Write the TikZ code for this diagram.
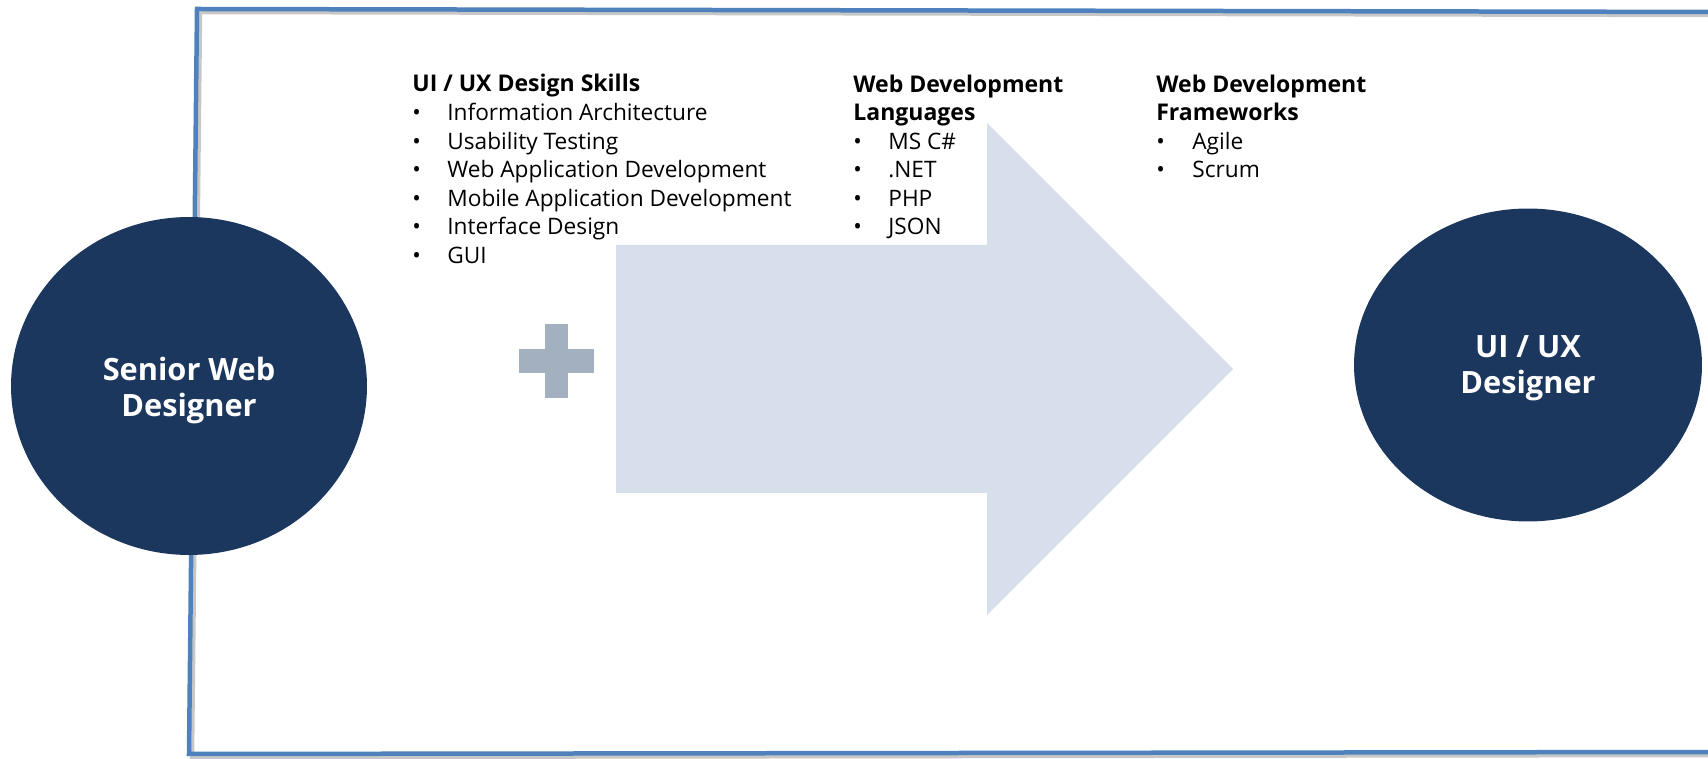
\documentclass[tikz,border=0pt]{standalone}
\usepackage{fontspec}
\setmainfont{Open Sans}
\usepackage{tikz}
\usepackage{xcolor}
\usetikzlibrary{calc, shapes, positioning}

\definecolor{navy}{RGB}{27,55,94}
\definecolor{frameblue}{RGB}{79,129,189}
\definecolor{arrowfill}{RGB}{214,223,235}
\definecolor{plusgrey}{RGB}{163,176,192}

\begin{document}
\begin{tikzpicture}[x=0.02cm, y=-0.02cm,
		role/.style={ellipse, fill=navy, inner sep=0pt},
		roletext/.style={anchor=base, inner sep=0pt, text=white, align=center, font=\fontsize{17.5}{21}\selectfont\bfseries},
		head/.style={anchor=base west, inner sep=0pt, align=left, font=\fontsize{13.1}{16.2}\selectfont\bfseries},
		item/.style={anchor=base west, inner sep=0pt, font=\fontsize{12.9}{16}\selectfont}]
			\useasboundingbox (0,0) rectangle (1708,759);
			\clip (0,0) rectangle (1708,759);
			% frame with its shadow
			\draw[black!22, line width=0.09cm, shift={(3,3)}] (197,9) -- (1730,12) -- (1730,752) -- (189,754) -- cycle;
			\draw[frameblue, line width=0.09cm] (197,9) -- (1730,12) -- (1730,752) -- (189,754) -- cycle;
			% big arrow and plus
			\fill[arrowfill] (616,245) -- (987,245) -- (987,123) -- (1233,369) -- (987,615) -- (987,493) -- (616,493) -- cycle;
			\fill[plusgrey] (545,324) rectangle (568,398);
			\fill[plusgrey] (519,349) rectangle (594,373);
			% skills
			\node[head] (skills) at (412,92) {UI / UX Design Skills};
			\foreach \t [count=\i] in {Information Architecture, Usability Testing, Web Application Development, Mobile Application Development, Interface Design, GUI} {
				\node[item] (sdot\i) at (412, {92+28.6*\i}) {•};
				\node[item] (skill\i) at (447, {92+28.6*\i}) {\t};
			}
			% languages
			\node[head] (langs) at (853,120.6) {Web Development\\Languages};
			\foreach \t [count=\i] in {MS C\#, .NET, PHP, JSON} {
				\node[item] (ldot\i) at (853, {120.6+28.6*\i}) {•};
				\node[item] (lang\i) at (888, {120.6+28.6*\i}) {\t};
			}
			% frameworks
			\node[head] (frames) at (1156,120.6) {Web Development\\Frameworks};
			\foreach \t [count=\i] in {Agile, Scrum} {
				\node[item] (fdot\i) at (1156, {120.6+28.6*\i}) {•};
				\node[item] (frame\i) at (1192, {120.6+28.6*\i}) {\t};
			}
			% roles
			\node[role, minimum width=7.12cm, minimum height=6.76cm] (senior) at (189,386) {};
			\node[roletext] (seniortext) at ($(senior.center)+(0,31)$) {Senior Web\\Designer};
			\node[role, minimum width=6.96cm, minimum height=6.26cm] (uxd) at (1528,365) {};
			\node[roletext] (uxdtext) at ($(uxd.center)+(0,29)$) {UI / UX\\Designer};
		\end{tikzpicture}
\end{document}
